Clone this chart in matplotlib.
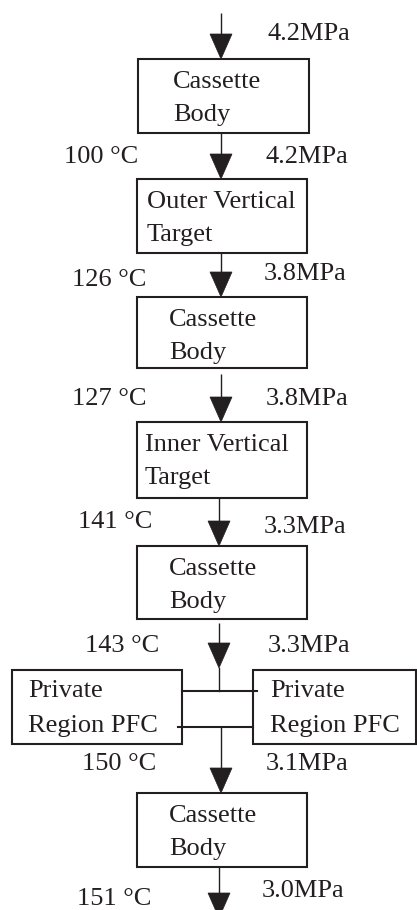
import matplotlib
matplotlib.use("Agg")
import matplotlib.pyplot as plt
from matplotlib.patches import Rectangle, Polygon

# flow path data
stages = ["Cassette\nBody", "Outer Vertical\nTarget", "Cassette\nBody",
          "Inner Vertical\nTarget", "Cassette\nBody", "Cassette\nBody"]
pfc_label = "Private\nRegion PFC"
temps = [100, 126, 127, 141, 143, 150, 151]          # degC
pressures = [4.2, 4.2, 3.8, 3.8, 3.3, 3.3, 3.1, 3.0]  # MPa

plt.rcParams['font.family'] = ['Liberation Serif', 'DejaVu Serif']
INK = '#231f20'
FS = 19

fig = plt.figure(figsize=(4.17, 9.10), dpi=100)
ax = fig.add_axes([0, 0, 1, 1])
ax.set_xlim(0, 417)
ax.set_ylim(910, 0)
ax.axis('off')

# layout (pixels, y down)
main_boxes = [(138, 59, 309, 133, 173), (137, 179, 307, 253, 147),
              (137, 297, 307, 368, 169), (137, 422, 307, 498, 145),
              (137, 546, 307, 619, 169), (137, 793, 307, 867, 169)]
pfc_boxes = [(12, 670, 182, 744, 28), (253, 670, 416, 744, 270)]
arrows = [(221, 13, 59), (221, 133, 179), (221, 253, 297), (221, 374, 422),
          (219, 498, 546), (219, 623, 668), (221, 727, 793), (219, 867, 918)]
temp_pos = [(64, 163), (72, 286), (72, 405), (78, 528), (85, 652), (82, 770), (77, 905)]
pres_pos = [(268, 40), (266, 163), (264, 280), (266, 405), (264, 533),
            (268, 652), (266, 770), (262, 897)]


def box(x0, y0, x1, y1, tx, label, off=(29, 62)):
    ax.add_patch(Rectangle((x0, y0), x1 - x0, y1 - y0, fill=False,
                           ec=INK, lw=1.5))
    for line, dy in zip(label.split("\n"), off):
        ax.text(tx, y0 + dy, line, fontsize=FS, color=INK,
                ha='left', va='baseline')


def arrow(x, y0, y1, hl=25, hw=11):
    ax.plot([x, x], [y0, y1 - hl], color=INK, lw=1.0, solid_capstyle='butt')
    ax.add_patch(Polygon([(x - hw, y1 - hl), (x + hw, y1 - hl), (x, y1)],
                         closed=True, fc=INK, ec=INK, lw=0.5))


for (x0, y0, x1, y1, tx), lab in zip(main_boxes, stages):
    box(x0, y0, x1, y1, tx, lab)
for (x0, y0, x1, y1, tx) in pfc_boxes:
    box(x0, y0, x1, y1, tx, pfc_label, off=(27, 62))

for x, y0, y1 in arrows:
    arrow(x, y0, y1)

# manifold between the two PFC boxes
ax.plot([219, 219], [668, 691], color=INK, lw=1.0)
ax.plot([182, 257], [691, 691], color=INK, lw=1.5)
ax.plot([178, 253], [727, 727], color=INK, lw=1.5)

for t, (x, y) in zip(temps, temp_pos):
    ax.text(x, y, f"{t} °C", fontsize=FS, color=INK, ha='left', va='baseline')
for p, (x, y) in zip(pressures, pres_pos):
    ax.text(x, y, f"{p:.1f}MPa", fontsize=FS, color=INK, ha='left', va='baseline')

fig.savefig("out.png", dpi=100)
